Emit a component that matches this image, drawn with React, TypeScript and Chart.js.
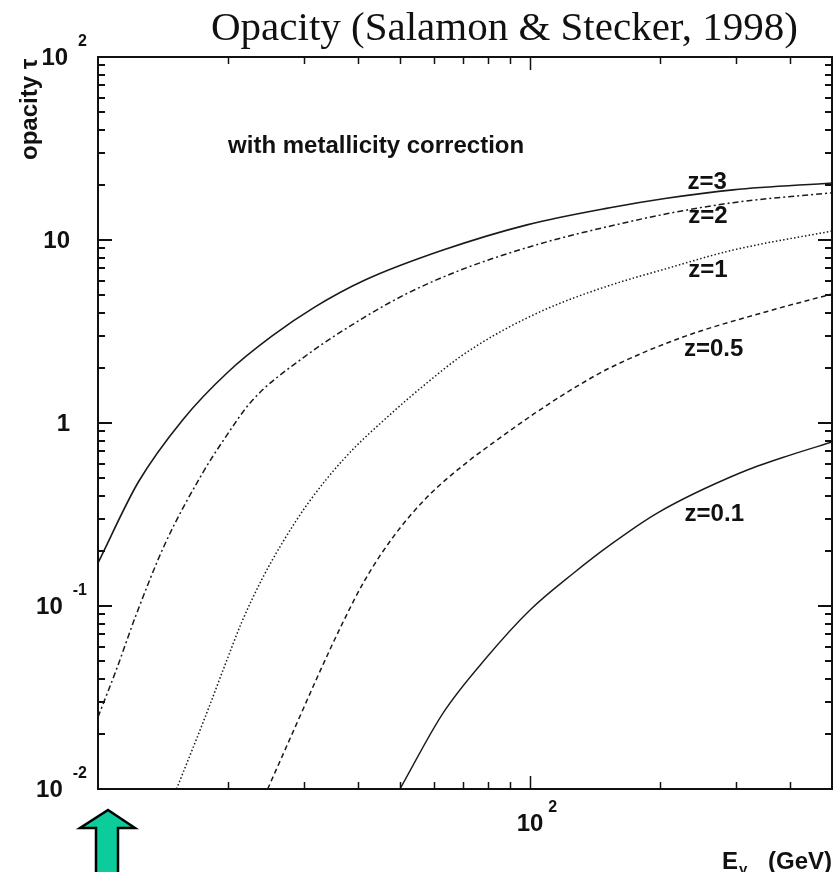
import React, { useEffect, useRef } from 'react';
import { Chart, registerables } from 'chart.js';

Chart.register(...registerables);

// ---- text ----
const TITLE = 'Opacity (Salamon & Stecker, 1998)';
const Y_TITLE = 'opacity τ';
const X_TITLE_MAIN = 'E';
const X_TITLE_SUB = 'γ';
const X_TITLE_UNIT = '(GeV)';
const NOTE = 'with metallicity correction';

// ---- axis ranges ----
const X_MIN = 10;
const X_MAX = 500;
const Y_MIN = 0.01;
const Y_MAX = 100;

// ---- tick values / labels ----
const xMajorTicks = [100];
const xMinorTicks = [20, 30, 40, 50, 60, 70, 80, 90, 200, 300, 400];
const xTickValues = [100];
const xTickBases = ['10'];
const xTickExps = ['2'];

const yMajorTicks = [0.01, 0.1, 1, 10, 100];
const yMinorMultipliers = [2, 3, 4, 5, 6, 7, 8, 9];
const yTickValues = [0.01, 0.1, 1, 10, 100];
const yTickBases = ['10', '10', '1', '10', '10'];
const yTickExps = ['-2', '-1', '', '', '2'];

// ---- series (E in GeV, opacity tau) ----
const seriesNames = ['z=3', 'z=2', 'z=1', 'z=0.5', 'z=0.1'];

const z3E = [10, 12.4, 15.7, 20, 25.3, 31.8, 41.5, 62.9, 98.4, 153, 207, 295, 500];
const z3Tau = [0.172, 0.476, 1.04, 1.9, 2.99, 4.31, 6.04, 8.81, 12.1, 15.0, 16.9, 18.8, 20.5];

const z2E = [10, 11.1, 12.2, 14.3, 17.4, 19.7, 22.7, 29.6, 41.5, 52.7, 68.9, 89.9, 117, 153, 207, 295, 500];
const z2Tau = [0.0247, 0.0468, 0.0871, 0.219, 0.525, 0.832, 1.32, 2.24, 3.8, 5.19, 6.84, 8.51, 10.2, 11.9, 13.9, 16.0, 18.1];

const z1E = [15.2, 17.7, 19.7, 21.5, 24.0, 26.7, 30.6, 37.3, 48.2, 57.8, 68.9, 82.1, 98.4, 117, 153, 207, 295, 500];
const z1Tau = [0.01, 0.0247, 0.0479, 0.0813, 0.141, 0.221, 0.363, 0.646, 1.15, 1.66, 2.3, 2.99, 3.75, 4.5, 5.65, 6.98, 8.81, 11.2];

const z05E = [24.7, 28.6, 33.0, 36.7, 41.5, 48.2, 57.8, 72.6, 82.1, 102, 128, 153, 226, 354, 500];
const z05Tau = [0.01, 0.0218, 0.0465, 0.0794, 0.139, 0.238, 0.394, 0.628, 0.778, 1.12, 1.58, 2.0, 2.95, 4.07, 5.07];

const z01E = [50, 62.9, 79.5, 100, 126, 153, 197, 306, 400, 500];
const z01Tau = [0.01, 0.026, 0.0526, 0.0951, 0.151, 0.215, 0.322, 0.533, 0.668, 0.787];

// where each curve's name is written (data coordinates)
const labelE = [257, 258, 258, 266, 267];
const labelTau = [20.7, 13.5, 6.86, 2.54, 0.318];

// note position (data coordinates of its left baseline)
const noteE = 20;
const noteTau = 30;

const seriesE = [z3E, z2E, z1E, z05E, z01E];
const seriesTau = [z3Tau, z2Tau, z1Tau, z05Tau, z01Tau];
const seriesDash: number[][] = [[], [6, 3, 2, 3], [1.5, 2.2], [5, 3.5], []];
const seriesWidth = [1.6, 1.5, 1.5, 1.5, 1.4];

const SANS = '"Liberation Sans", Arial, Helvetica, sans-serif';
const SERIF = '"Liberation Serif", "Times New Roman", serif';
const INK = '#111';

function drawPower(
  ctx: CanvasRenderingContext2D,
  base: string,
  exp: string,
  x: number,
  y: number,
  align: 'right' | 'baseCenter',
  gap: number
) {
  ctx.font = `bold 24px ${SANS}`;
  const bw = ctx.measureText(base).width;
  ctx.font = `bold 16px ${SANS}`;
  const ew = exp ? ctx.measureText(exp).width : 0;
  let bx: number;
  if (align === 'right') {
    const total = bw + (exp ? gap + ew : 0);
    bx = x - total;
  } else {
    bx = x - bw / 2;
  }
  ctx.textAlign = 'left';
  ctx.textBaseline = 'middle';
  ctx.font = `bold 24px ${SANS}`;
  ctx.fillText(base, bx, y + 1);
  if (exp) {
    ctx.font = `bold 16px ${SANS}`;
    ctx.fillText(exp, bx + bw + gap, y - 15);
  }
}

const decorPlugin = {
  id: 'decor',
  beforeDraw(chart: any) {
    const { ctx } = chart;
    ctx.save();
    ctx.fillStyle = '#fff';
    ctx.fillRect(0, 0, chart.width, chart.height);
    ctx.restore();
  },
  afterDraw(chart: any) {
    const { ctx, chartArea } = chart;
    const xs = chart.scales.x;
    const ys = chart.scales.y;
    const { left, right, top, bottom } = chartArea;
    ctx.save();
    ctx.fillStyle = INK;
    ctx.strokeStyle = INK;

    // frame
    ctx.lineWidth = 2;
    ctx.setLineDash([]);
    ctx.strokeRect(left, top, right - left, bottom - top);

    // x ticks (bottom and top, inward)
    ctx.lineWidth = 1.5;
    const xTick = (v: number, len: number) => {
      const px = Math.round(xs.getPixelForValue(v)) + 0.5;
      ctx.beginPath();
      ctx.moveTo(px, bottom);
      ctx.lineTo(px, bottom - len);
      ctx.moveTo(px, top);
      ctx.lineTo(px, top + len);
      ctx.stroke();
    };
    xMajorTicks.forEach((v) => xTick(v, 13));
    xMinorTicks.forEach((v) => xTick(v, 7));

    // y ticks (left and right, inward)
    ctx.lineWidth = 2;
    const yTick = (v: number, len: number) => {
      const py = Math.round(ys.getPixelForValue(v));
      ctx.beginPath();
      ctx.moveTo(left, py);
      ctx.lineTo(left + len, py);
      ctx.moveTo(right, py);
      ctx.lineTo(right - len, py);
      ctx.stroke();
    };
    yMajorTicks.forEach((d) => {
      yTick(d, 14);
      if (d < Y_MAX) yMinorMultipliers.forEach((m) => yTick(d * m, 7));
    });

    // y tick labels
    yTickValues.forEach((v, i) => {
      const py = ys.getPixelForValue(v);
      if (yTickExps[i]) drawPower(ctx, yTickBases[i], yTickExps[i], 87, py, 'right', 10);
      else drawPower(ctx, yTickBases[i], '', 70, py, 'right', 0);
    });

    // x tick labels
    xTickValues.forEach((v, i) => {
      const px = xs.getPixelForValue(v);
      drawPower(ctx, xTickBases[i], xTickExps[i], px, bottom + 34, 'baseCenter', 5);
    });

    // title
    ctx.font = `41px ${SERIF}`;
    ctx.textAlign = 'right';
    ctx.textBaseline = 'alphabetic';
    ctx.fillText(TITLE, 798, 40);

    // y axis title
    ctx.save();
    ctx.translate(37, 160);
    ctx.rotate(-Math.PI / 2);
    ctx.font = `bold 24px ${SANS}`;
    ctx.textAlign = 'left';
    ctx.textBaseline = 'alphabetic';
    ctx.fillText(Y_TITLE, 0, 0);
    ctx.restore();

    // x axis title
    ctx.font = `bold 24px ${SANS}`;
    ctx.textAlign = 'left';
    ctx.textBaseline = 'alphabetic';
    ctx.fillText(X_TITLE_MAIN, 722, 869);
    const ew = ctx.measureText(X_TITLE_MAIN).width;
    ctx.font = `bold 15px ${SANS}`;
    ctx.fillText(X_TITLE_SUB, 722 + ew + 1, 874);
    ctx.font = `bold 24px ${SANS}`;
    ctx.textAlign = 'right';
    ctx.fillText(X_TITLE_UNIT, 832, 869);

    // note
    ctx.font = `bold 24px ${SANS}`;
    ctx.textAlign = 'left';
    ctx.textBaseline = 'alphabetic';
    ctx.fillText(NOTE, xs.getPixelForValue(noteE), ys.getPixelForValue(noteTau));

    // curve labels
    ctx.textAlign = 'center';
    ctx.textBaseline = 'middle';
    seriesNames.forEach((name, i) => {
      ctx.fillText(name, xs.getPixelForValue(labelE[i]), ys.getPixelForValue(labelTau[i]));
    });

    // green arrow below the x axis
    ctx.beginPath();
    ctx.moveTo(108, 810);
    ctx.lineTo(135, 828);
    ctx.lineTo(118, 828);
    ctx.lineTo(118, 880);
    ctx.lineTo(96, 880);
    ctx.lineTo(96, 828);
    ctx.lineTo(80, 828);
    ctx.closePath();
    ctx.fillStyle = '#0dcc9c';
    ctx.fill();
    ctx.lineWidth = 2.5;
    ctx.lineJoin = 'miter';
    ctx.strokeStyle = '#000';
    ctx.stroke();

    ctx.restore();
  },
};

export default function App() {
  const canvasRef = useRef<HTMLCanvasElement | null>(null);

  useEffect(() => {
    const canvas = canvasRef.current;
    if (!canvas) return;
    const datasets = seriesNames.map((name, i) => ({
      label: name,
      data: seriesE[i].map((e, j) => ({ x: e, y: seriesTau[i][j] })),
      borderColor: '#1a1a1a',
      borderWidth: seriesWidth[i],
      borderDash: seriesDash[i],
      pointRadius: 0,
      fill: false,
      cubicInterpolationMode: 'monotone' as const,
    }));
    const chart = new Chart(canvas, {
      type: 'line',
      data: { datasets },
      options: {
        responsive: false,
        animation: false,
        devicePixelRatio: 1,
        layout: { padding: { left: 98, right: 4, top: 57, bottom: 83 } },
        plugins: {
          legend: { display: false },
          tooltip: { enabled: false },
          title: { display: false },
        },
        scales: {
          x: { type: 'logarithmic', min: X_MIN, max: X_MAX, display: false },
          y: { type: 'logarithmic', min: Y_MIN, max: Y_MAX, display: false },
        },
      },
      plugins: [decorPlugin],
    });
    return () => chart.destroy();
  }, []);

  return (
    <div style={{ position: 'absolute', left: 0, top: 0, width: 836, height: 872, background: '#fff' }}>
      <canvas ref={canvasRef} width={836} height={872} style={{ display: 'block' }} />
    </div>
  );
}
